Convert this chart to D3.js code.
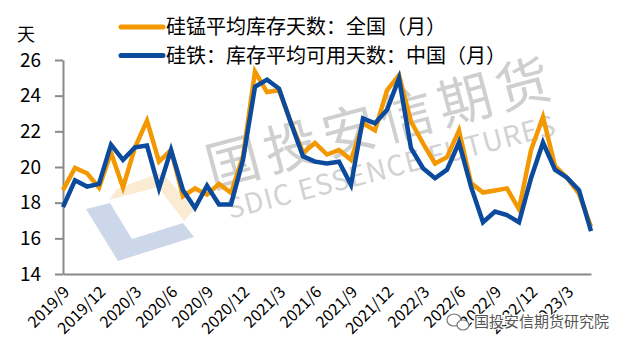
<!DOCTYPE html>
<html>
<head>
<meta charset="utf-8">
<script src="https://cdn.jsdelivr.net/npm/d3@7/dist/d3.min.js"></script>
<style>
  html, body { margin: 0; padding: 0; background: #ffffff; }
  svg { display: block; }
  text { font-family: "Noto Sans CJK SC", "Noto Sans", sans-serif; }
</style>
</head>
<body>
<svg id="chart" width="630" height="350"></svg>
<script>
// Monthly categories, 2019/9 – 2023/5
const months = [
  "2019/9","2019/10","2019/11","2019/12",
  "2020/1","2020/2","2020/3","2020/4","2020/5","2020/6","2020/7","2020/8","2020/9","2020/10","2020/11","2020/12",
  "2021/1","2021/2","2021/3","2021/4","2021/5","2021/6","2021/7","2021/8","2021/9","2021/10","2021/11","2021/12",
  "2022/1","2022/2","2022/3","2022/4","2022/5","2022/6","2022/7","2022/8","2022/9","2022/10","2022/11","2022/12",
  "2023/1","2023/2","2023/3","2023/4","2023/5"
];

// 硅锰平均库存天数：全国（月）
const siliconManganese = [
  18.7, 19.95, 19.65, 18.85,
  20.8, 18.85, 21.1, 22.6, 20.3, 20.95, 18.35, 18.8, 18.45, 19.05, 18.55, 20.6,
  25.35, 24.2, 24.3, 22.5, 20.8, 21.35, 20.7, 20.95, 20.4, 22.45, 22.05, 24.3,
  25.15, 22.55, 21.33, 20.2, 20.55, 22.05, 19.1, 18.57, 18.68, 18.8, 17.63, 20.95,
  22.8, 20.05, 19.4, 18.5, 16.65
];

// 硅铁：库存平均可用天数：中国（月）
const ferroSilicon = [
  17.75, 19.25, 18.9, 19.05,
  21.25, 20.4, 21.1, 21.2, 18.8, 20.95, 18.7, 17.7, 18.95, 17.9, 17.9, 20.4,
  24.5, 24.9, 24.4, 22.45, 20.6, 20.3, 20.2, 20.3, 19.0, 22.73, 22.45, 23.2,
  24.97, 21.05, 19.93, 19.37, 19.85, 21.37, 18.9, 16.9, 17.5, 17.3, 16.9, 19.37,
  21.37, 19.85, 19.4, 18.7, 16.4
];

const yTicks = [14, 16, 18, 20, 22, 24, 26];
const xTickLabels = months.filter((m, i) => i % 3 === 0);

const seriesNames = ["硅锰平均库存天数：全国（月）", "硅铁：库存平均可用天数：中国（月）"];
const seriesColors = ["#F39800", "#0B4A9C"];
const unitLabel = "天";
const brandText = "国投安信期货";
const brandTextEn = "SDIC ESSENCE FUTURES";
const footerText = "国投安信期货研究院";

const svg = d3.select("#chart");
const plot = { left: 63, right: 591, top: 60, bottom: 274 };

const x = d3.scalePoint().domain(months).range([plot.left, plot.right]);
const y = d3.scaleLinear().domain([14, 26]).range([plot.bottom, plot.top]);

// ---- background brand mark ----
const wm = svg.append("g").attr("class", "watermark");
wm.append("path")
  .attr("d", "M109,200 L117,189 L162,172 L194,210 L184,221 L158,187 Z")
  .attr("fill", "#FBE6C8").attr("opacity", 0.8);
wm.append("path")
  .attr("d", "M86,209 L110,203 L132,239 L183,223 L194,237 L118,261 Z")
  .attr("fill", "#C6D3E7").attr("opacity", 0.9);
wm.append("text")
  .attr("transform", "translate(212,188) rotate(-15)")
  .attr("font-size", 54).attr("letter-spacing", 6)
  .attr("fill", "#cfcfcf")
  .text(brandText);
wm.append("text")
  .attr("transform", "translate(230,219) rotate(-14.5)")
  .attr("font-size", 28).attr("letter-spacing", 1)
  .attr("font-family", "Liberation Sans, Arial, sans-serif")
  .attr("fill", "#d2d2d2")
  .text(brandTextEn);

// ---- axes ----
const axisColor = "#898989";

const yAxis = svg.append("g")
  .attr("transform", `translate(${plot.left},0)`)
  .call(d3.axisLeft(y).tickValues(yTicks).tickSize(8).tickPadding(14).tickSizeOuter(0));
yAxis.select(".domain").attr("stroke", axisColor).attr("stroke-width", 2);
yAxis.selectAll(".tick line").attr("stroke", axisColor).attr("stroke-width", 2);
yAxis.selectAll(".tick text")
  .attr("font-size", 19).attr("fill", "#000")
  .attr("font-family", "Liberation Sans, Arial, sans-serif");

const xAxis = svg.append("g")
  .attr("transform", `translate(0,${plot.bottom})`)
  .call(d3.axisBottom(x).tickValues(xTickLabels).tickSize(0).tickSizeOuter(0));
xAxis.select(".domain").attr("stroke", axisColor).attr("stroke-width", 2);
xAxis.selectAll(".tick text")
  .attr("font-size", 16).attr("fill", "#000")
  .attr("text-anchor", "end")
  .attr("x", 0).attr("y", 0).attr("dy", "0.35em")
  .attr("transform", "translate(3,15) rotate(-45)");

svg.append("text")
  .attr("x", 17).attr("y", 41)
  .attr("font-size", 18).attr("fill", "#000")
  .text(unitLabel);

// ---- lines ----
const line = d3.line()
  .x((d, i) => x(months[i]))
  .y(d => y(d));

[siliconManganese, ferroSilicon].forEach((vals, k) => {
  svg.append("path")
    .datum(vals)
    .attr("d", line)
    .attr("fill", "none")
    .attr("stroke", seriesColors[k])
    .attr("stroke-width", 4.5)
    .attr("stroke-linejoin", "miter");
});

// ---- legend ----
const legend = svg.append("g");
seriesNames.forEach((name, k) => {
  const ly = 27 + k * 28.5;
  legend.append("line")
    .attr("x1", 121).attr("x2", 163).attr("y1", ly).attr("y2", ly)
    .attr("stroke", seriesColors[k]).attr("stroke-width", 5)
    .attr("stroke-linecap", "round");
  legend.append("text")
    .attr("x", 166).attr("y", ly).attr("dy", "0.36em")
    .attr("font-size", 20).attr("fill", "#000")
    .text(name);
});

// ---- footer signature ----
const foot = svg.append("g").attr("transform", "translate(458,322)");
foot.append("ellipse").attr("cx", -4).attr("cy", -2).attr("rx", 7).attr("ry", 6)
  .attr("fill", "none").attr("stroke", "#777").attr("stroke-width", 1.2);
foot.append("ellipse").attr("cx", 5).attr("cy", 3).attr("rx", 6).attr("ry", 5)
  .attr("fill", "#fff").attr("stroke", "#777").attr("stroke-width", 1.2);
foot.append("text")
  .attr("x", 16).attr("y", 0).attr("dy", "0.36em")
  .attr("font-size", 15).attr("fill", "#555")
  .attr("stroke", "#fff").attr("stroke-width", 2.5).attr("paint-order", "stroke")
  .text(footerText);
</script>
</body>
</html>
